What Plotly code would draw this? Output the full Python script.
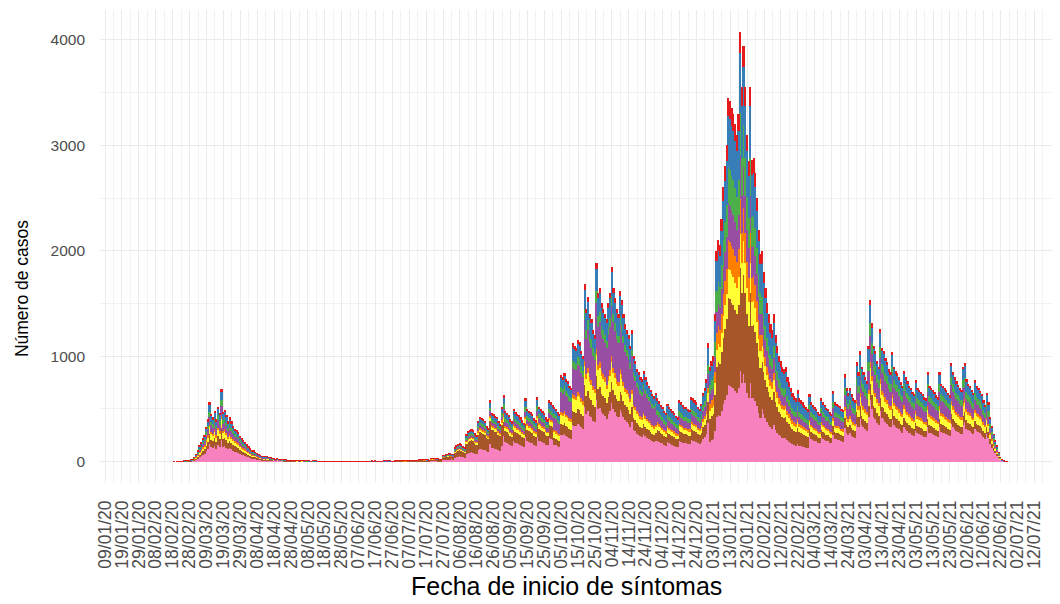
import pandas as pd
import plotly.graph_objects as go

# ---------------- DATA ----------------
start_date = "2020-02-17"   # first day (Monday); one row per week below

daily_totals = [
    0, 0, 1, 0, 1, 2, 1,
    3, 5, 6, 10, 12, 15, 18,
    40, 70, 100, 150, 180, 220, 250,
    330, 400, 560, 450, 420, 480, 400,
    520, 460, 690, 470, 490, 440, 380,
    420, 380, 340, 310, 300, 280, 240,
    220, 200, 180, 160, 140, 120, 100,
    100, 90, 80, 70, 60, 50, 45,
    50, 45, 40, 35, 30, 25, 22,
    25, 22, 20, 18, 16, 15, 12,
    14, 12, 12, 10, 9, 8, 7,
    10, 8, 7, 6, 6, 5, 4,
    6, 5, 5, 4, 4, 3, 3,
    4, 4, 3, 3, 3, 2, 2,
    3, 3, 3, 2, 2, 2, 2,
    3, 3, 2, 3, 2, 2, 2,
    4, 3, 4, 3, 3, 2, 3,
    5, 4, 5, 4, 4, 3, 3,
    6, 5, 6, 5, 5, 4, 4,
    8, 9, 8, 7, 7, 6, 6,
    12, 11, 12, 10, 10, 8, 8,
    20, 22, 20, 18, 18, 15, 14,
    30, 32, 30, 28, 26, 22, 20,
    55, 60, 65, 70, 75, 70, 65,
    130, 150, 160, 170, 160, 140, 130,
    260, 290, 300, 310, 300, 270, 250,
    380, 420, 410, 400, 380, 340, 320,
    580, 460, 450, 430, 420, 380, 360,
    520, 630, 480, 460, 440, 400, 380,
    500, 470, 450, 440, 420, 390, 370,
    600, 500, 480, 470, 450, 410, 390,
    610, 520, 500, 480, 460, 420, 400,
    580, 560, 540, 520, 500, 470, 450,
    820, 800, 840, 780, 760, 720, 700,
    1120, 1100, 1080, 1150, 1130, 1050, 1000,
    1680, 1450, 1560, 1400, 1350, 1250, 1200,
    1880, 1600, 1650, 1500, 1450, 1400, 1350,
    1500, 1600, 1850, 1650, 1550, 1450, 1400,
    1620, 1530, 1400, 1300, 1250, 1200, 1100,
    1250, 1000, 950, 880, 850, 800, 780,
    860, 800, 750, 720, 680, 640, 620,
    650, 600, 570, 540, 520, 480, 460,
    550, 520, 500, 480, 460, 430, 420,
    580, 560, 540, 520, 520, 500, 490,
    610, 600, 580, 560, 520, 500, 550,
    650, 700, 780, 1120, 900, 950, 1000,
    1400, 2000, 2100, 2050, 2300, 2600, 2800,
    3000, 3450, 3420, 3350, 3300, 3200, 3100,
    3300, 4080, 3550, 3940, 3550, 3100, 2850,
    3550, 2860, 2880, 2740, 2500, 2200, 1970,
    2000, 1800, 1650, 1500, 1400, 1300, 1250,
    1400, 1200, 1100, 1000, 950, 900, 880,
    900, 800, 750, 700, 650, 620, 600,
    680, 600, 580, 560, 540, 520, 500,
    640, 560, 540, 520, 500, 470, 450,
    600, 560, 540, 510, 500, 470, 450,
    670, 560, 550, 540, 530, 500, 490,
    830, 700, 650, 700, 640, 600, 580,
    940, 850, 1050, 900, 850, 800, 760,
    1100, 1530, 1310, 1100, 1050, 950, 900,
    1260, 1080, 1050, 980, 940, 880, 850,
    1040, 900, 860, 840, 800, 750, 720,
    860, 800, 760, 720, 700, 660, 640,
    770, 700, 680, 660, 640, 610, 600,
    850, 720, 700, 680, 660, 630, 610,
    850, 740, 720, 700, 680, 650, 630,
    930, 850, 800, 760, 730, 700, 680,
    900, 930, 780, 740, 720, 680, 650,
    770, 720, 700, 670, 640, 580, 540,
    650, 560, 420, 330, 260, 200, 150,
    90, 40, 15, 5, 2, 1, 0,
]

# months covered by the share tables (Feb 2020 .. Jun 2021)
months = ["2020-02", "2020-03", "2020-04", "2020-05", "2020-06", "2020-07",
          "2020-08", "2020-09", "2020-10", "2020-11", "2020-12", "2021-01",
          "2021-02", "2021-03", "2021-04", "2021-05", "2021-06"]

# groups, bottom of stack first
groups = ["Sevilla", "Málaga", "Jaén", "Huelva", "Granada", "Córdoba", "Cádiz", "Almería"]

# monthly share of each group in the daily total
share_sevilla = [.30, .30, .28, .25, .20, .18, .28, .38, .31, .30, .33, .21, .25, .38, .38, .38, .40]
share_malaga  = [.20, .16, .22, .30, .45, .55, .38, .22, .12, .11, .17, .24, .22, .12, .10, .10, .10]
share_jaen    = [.10, .12, .10, .08, .05, .04, .06, .08, .11, .10, .08, .08, .08, .08, .10, .10, .10]
share_huelva  = [.05, .04, .04, .04, .03, .03, .03, .03, .03, .03, .04, .08, .05, .04, .04, .04, .04]
share_granada = [.12, .14, .14, .10, .08, .06, .07, .08, .23, .26, .12, .10, .10, .14, .16, .16, .12]
share_cordoba = [.08, .08, .06, .06, .05, .04, .06, .07, .06, .05, .08, .10, .08, .08, .08, .08, .09]
share_cadiz   = [.12, .12, .12, .12, .08, .05, .07, .10, .11, .12, .14, .14, .16, .12, .11, .11, .12]
share_almeria = [.03, .04, .04, .05, .06, .05, .05, .04, .03, .03, .04, .05, .06, .04, .03, .03, .03]

colors = ["#F781BF", "#A65628", "#FFFF33", "#FF7F00", "#984EA3", "#4DAF4A", "#377EB8", "#E41A1C"]

tick_start = "2020-01-09"
tick_end = "2021-07-12"

x_title = "Fecha de inicio de síntomas"
y_title = "Número de casos"

# ---------------- BUILD ----------------
shares = [share_sevilla, share_malaga, share_jaen, share_huelva,
          share_granada, share_cordoba, share_cadiz, share_almeria]

dates = pd.date_range(start_date, periods=len(daily_totals), freq="D")
month_idx = [months.index(d.strftime("%Y-%m")) for d in dates]

fig = go.Figure()
for name, sh, col in zip(groups, shares, colors):
    vals = [t * sh[m] for t, m in zip(daily_totals, month_idx)]
    fig.add_trace(go.Bar(x=dates, y=vals, name=name, marker_color=col,
                         marker_line_width=0, width=86400000))

tick_dates = pd.date_range(tick_start, tick_end, freq="10D")
tick_text = [d.strftime("%d/%m/%y") for d in tick_dates]

font_family = "Liberation Sans, Arial, sans-serif"
fig.update_layout(
    barmode="stack",
    bargap=0,
    showlegend=False,
    width=1052, height=596,
    paper_bgcolor="white", plot_bgcolor="white",
    margin=dict(l=92, r=7, t=2, b=121, autoexpand=False),
    font=dict(family=font_family, color="#4D4D4D"),
    xaxis=dict(
        type="date",
        range=["2020-01-06", "2021-07-23"],
        tickmode="array",
        tickvals=list(tick_dates),
        ticktext=tick_text,
        tickangle=-90,
        tickfont=dict(size=17.5, color="#4D4D4D"),
        ticklabelstandoff=13,
        showgrid=True, gridcolor="#EBEBEB", gridwidth=1,
        minor=dict(showgrid=True, gridcolor="#F2F2F2", gridwidth=0.8,
                   tick0="2020-01-14", dtick=10 * 86400000),
        zeroline=False, showline=False, ticks="",
        automargin=False,
    ),
    yaxis=dict(
        range=[-204, 4284],
        tickmode="array",
        tickvals=[0, 1000, 2000, 3000, 4000],
        ticktext=["0", "1000", "2000", "3000", "4000"],
        tickfont=dict(size=15.5, color="#4D4D4D"),
        ticklabelstandoff=14,
        showgrid=True, gridcolor="#EBEBEB", gridwidth=1,
        minor=dict(showgrid=True, gridcolor="#F2F2F2", gridwidth=0.8,
                   tickmode="array", tickvals=[500, 1500, 2500, 3500]),
        zeroline=False, showline=False, ticks="",
        automargin=False,
    ),
    annotations=[
        dict(text=x_title, xref="paper", yref="paper", x=0.49, y=-0.218,
             xanchor="center", yanchor="middle", showarrow=False,
             font=dict(size=25, color="black", family=font_family)),
        dict(text=y_title, xref="paper", yref="paper", x=-0.0818, y=0.41,
             xanchor="center", yanchor="middle", showarrow=False, textangle=-90,
             font=dict(size=17.5, color="black", family=font_family)),
    ],
)

fig.write_html("out.html")
